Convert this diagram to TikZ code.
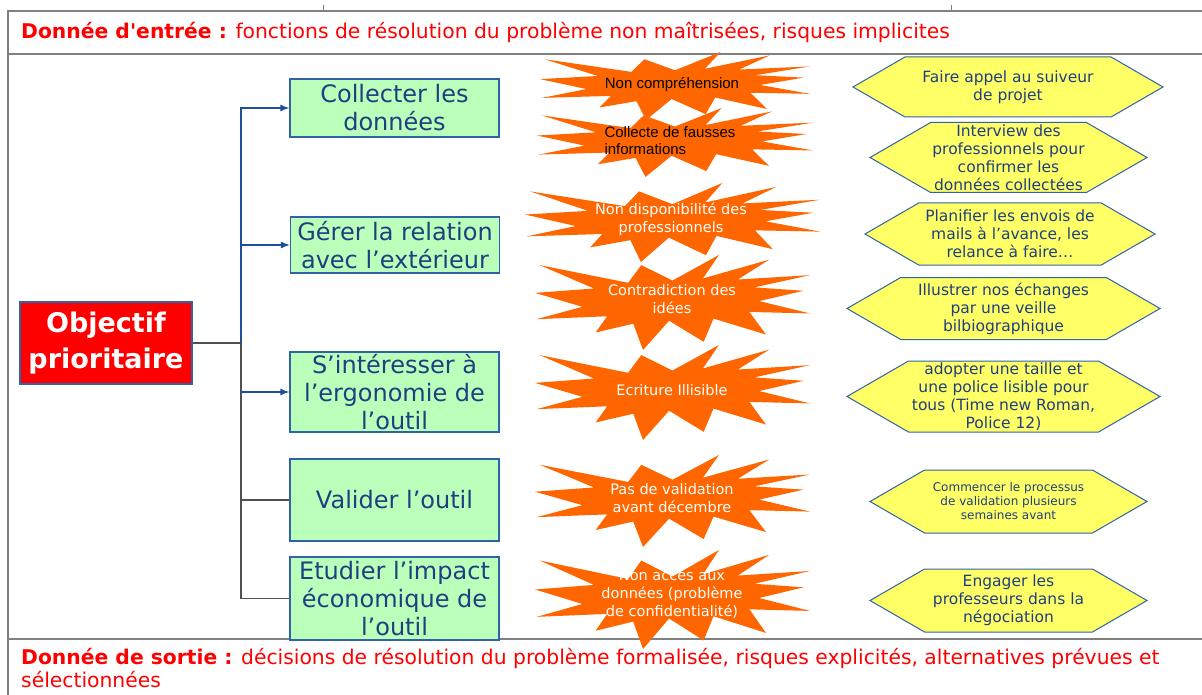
\documentclass[tikz,border=0pt]{standalone}
\usepackage{fontspec}
\setmainfont{DejaVu Sans}[Ligatures=TeXOff]
\newfontfamily\arialfont{Liberation Sans}
\usetikzlibrary{shapes.symbols, arrows.meta}

\definecolor{framegray}{HTML}{808080}
\definecolor{boxblue}{HTML}{2F62A8}
\definecolor{textblue}{HTML}{1F3F80}
\definecolor{goalgreen}{HTML}{BAFFBA}
\definecolor{riskorange}{HTML}{FF6600}
\definecolor{actionyellow}{HTML}{FFFF66}
\definecolor{linkblue}{HTML}{1F4F9A}
\definecolor{linkgray}{HTML}{505050}

% explosion outline, drawn in the box x1 y1 x2 y2
\newcommand{\riskburst}[4]{%
  \fill[riskorange, shift={(#1,#2)}, xscale={(#3-#1)/216}, yscale={(#4-#2)/216}]
    (108,58) -- (83.52,22.95) -- (73.12,63.2) -- (3.7,22.95) -- (46.27,76.17)
    -- (0,86.15) -- (37.22,117.75) -- (1.35,145.87) -- (56.67,139.37)
    -- (47.62,176.17) -- (77.15,156.27) -- (84.85,216) -- (105.32,149.35)
    -- (132.47,197.37) -- (140.2,144.57) -- (181.45,180.95) -- (168.37,129.42)
    -- (216,132.9) -- (176.07,104.75) -- (210.97,81.37) -- (172.2,73.67)
    -- (216,45.8) -- (159.3,55.77) -- (183.87,10.67) -- (131.9,53.25)
    -- (144.47,0) -- cycle;}

\tikzset{
  frame/.style={draw=framegray, line width=2pt},
  goal/.style={draw=boxblue, fill=goalgreen, text=textblue, line width=1.2pt,
    minimum width=209pt, align=center, inner sep=0pt,
    font=\fontsize{24}{28}\selectfont},
  risk/.style={text=white, align=center, inner sep=0pt,
    font=\fontsize{14.5}{18}\selectfont},
  action/.style={signal, signal to=west and east, signal pointer angle=60,
    draw=boxblue, fill=actionyellow, text=textblue, line width=1pt,
    align=center, inner sep=0pt, font=\fontsize{15.5}{18}\selectfont},
  bluelink/.style={draw=linkblue, line width=1.2pt},
  graylink/.style={draw=linkgray, line width=1.5pt}
}

\begin{document}
\begin{tikzpicture}[x=1pt, y=-1pt, >={Latex[length=9pt, width=7pt]}]
\useasboundingbox (0,0) rectangle (1202,695);

% frame of the table
\draw[frame] (8,695) -- (8,11) -- (1202,11);
\draw[frame] (8,54) -- (1202,54);
\draw[frame] (8,639) -- (1202,639);
\draw[draw=framegray, line width=0.8pt] (323,5) -- (323,11);
\draw[draw=framegray, line width=0.8pt] (951,5) -- (951,11);

% main objective
\node[draw=boxblue, fill=red, text=white, line width=1.2pt, minimum width=172pt, minimum height=82pt,
  align=center, inner sep=0pt, font=\bfseries\fontsize{27}{36}\selectfont] at (106,343) (obj) {Objectif\\prioritaire};

% sub goals
\node[goal, minimum height=58pt] at (394.5,108) (goal1) {Collecter les\\données};
\node[goal, minimum height=56pt] at (395,245) (goal2) {Gérer la relation\\avec l’extérieur};
\node[goal, minimum height=80pt] at (394.5,392) (goal3) {S’intéresser à\\l’ergonomie de\\l’outil};
\node[goal, minimum height=82pt] at (394.5,500) (goal4) {Valider l’outil};
\node[goal, minimum height=83pt] at (394.5,598.5) (goal5) {Etudier l’impact\\économique de\\l’outil};

% tree links
\coordinate (split) at (241,343);
\draw[graylink] (obj.east) -- (split);
\draw[graylink] (split) |- (goal4.west);
\draw[graylink] (split) |- (goal5.west);
\draw[bluelink, ->] (split) |- (goal1.west);
\draw[bluelink, ->] (split) |- (goal2.west);
\draw[bluelink, ->] (split |- goal3.west) -- (goal3.west);

% risks
\riskburst{540}{52}{810}{120}
\riskburst{537}{108}{813}{177}
\riskburst{525}{183}{820}{262}
\riskburst{535}{255}{810}{350}
\riskburst{535}{345}{810}{440}
\riskburst{535}{455}{810}{547}
\riskburst{535}{550}{810}{649}
\node[risk, text=black, font=\arialfont\fontsize{15}{17}\selectfont] at (672,85) (risk1) {Non compréhension};
\node[risk, text=black, align=left, font=\arialfont\fontsize{15}{17}\selectfont] at (670,141) (risk2) {Collecte de fausses\\informations};
\node[risk] at (671,219) (risk3) {Non disponibilité des\\professionnels};
\node[risk] at (672,299) (risk4) {Contradiction des\\idées};
\node[risk] at (672,390) (risk5) {Ecriture Illisible};
\node[risk] at (672,498) (risk6) {Pas de validation\\avant décembre};
\node[risk] at (672,594) (risk7) {Non accès aux\\données (problème\\de confidentialité)};

% actions
\node[action, minimum width=310pt, minimum height=60pt] at (1008,87) (act1) {Faire appel au suiveur\\de projet};
\node[action, minimum width=277pt, minimum height=70pt] at (1008.5,157.5) (act2) {Interview des\\professionnels pour\\confirmer les\\données collectées};
\node[action, minimum width=290pt, minimum height=62pt] at (1010,234) (act3) {Planifier les envois de\\mails à l’avance, les\\relance à faire…};
\node[action, minimum width=313pt, minimum height=62pt] at (1003.5,308.5) (act4) {Illustrer nos échanges\\par une veille\\bilbiographique};
\node[action, minimum width=313pt, minimum height=71pt] at (1003.5,396.5) (act5) {adopter une taille et\\une police lisible pour\\tous (Time new Roman,\\Police 12)};
\node[action, minimum width=277pt, minimum height=63pt, font=\fontsize{12}{14}\selectfont] at (1008.5,501.5) (act6) {Commencer le processus\\de validation plusieurs\\semaines avant};
\node[action, minimum width=277pt, minimum height=63pt] at (1008.5,600.5) (act7) {Engager les\\professeurs dans la\\négociation};

% input and output
\node[anchor=west, inner sep=0pt, text=red, font=\fontsize{20.3}{23}\selectfont] at (21,32) (input)
  {\textbf{Donnée d'entrée :} fonctions de résolution du problème non maîtrisées, risques implicites};
\node[anchor=north west, align=left, inner sep=0pt, text=red, font=\fontsize{20.3}{23}\selectfont] at (21,648) (output)
  {\textbf{Donnée de sortie :} décisions de résolution du problème formalisée, risques explicités, alternatives prévues et\\sélectionnées};

\end{tikzpicture}
\end{document}
